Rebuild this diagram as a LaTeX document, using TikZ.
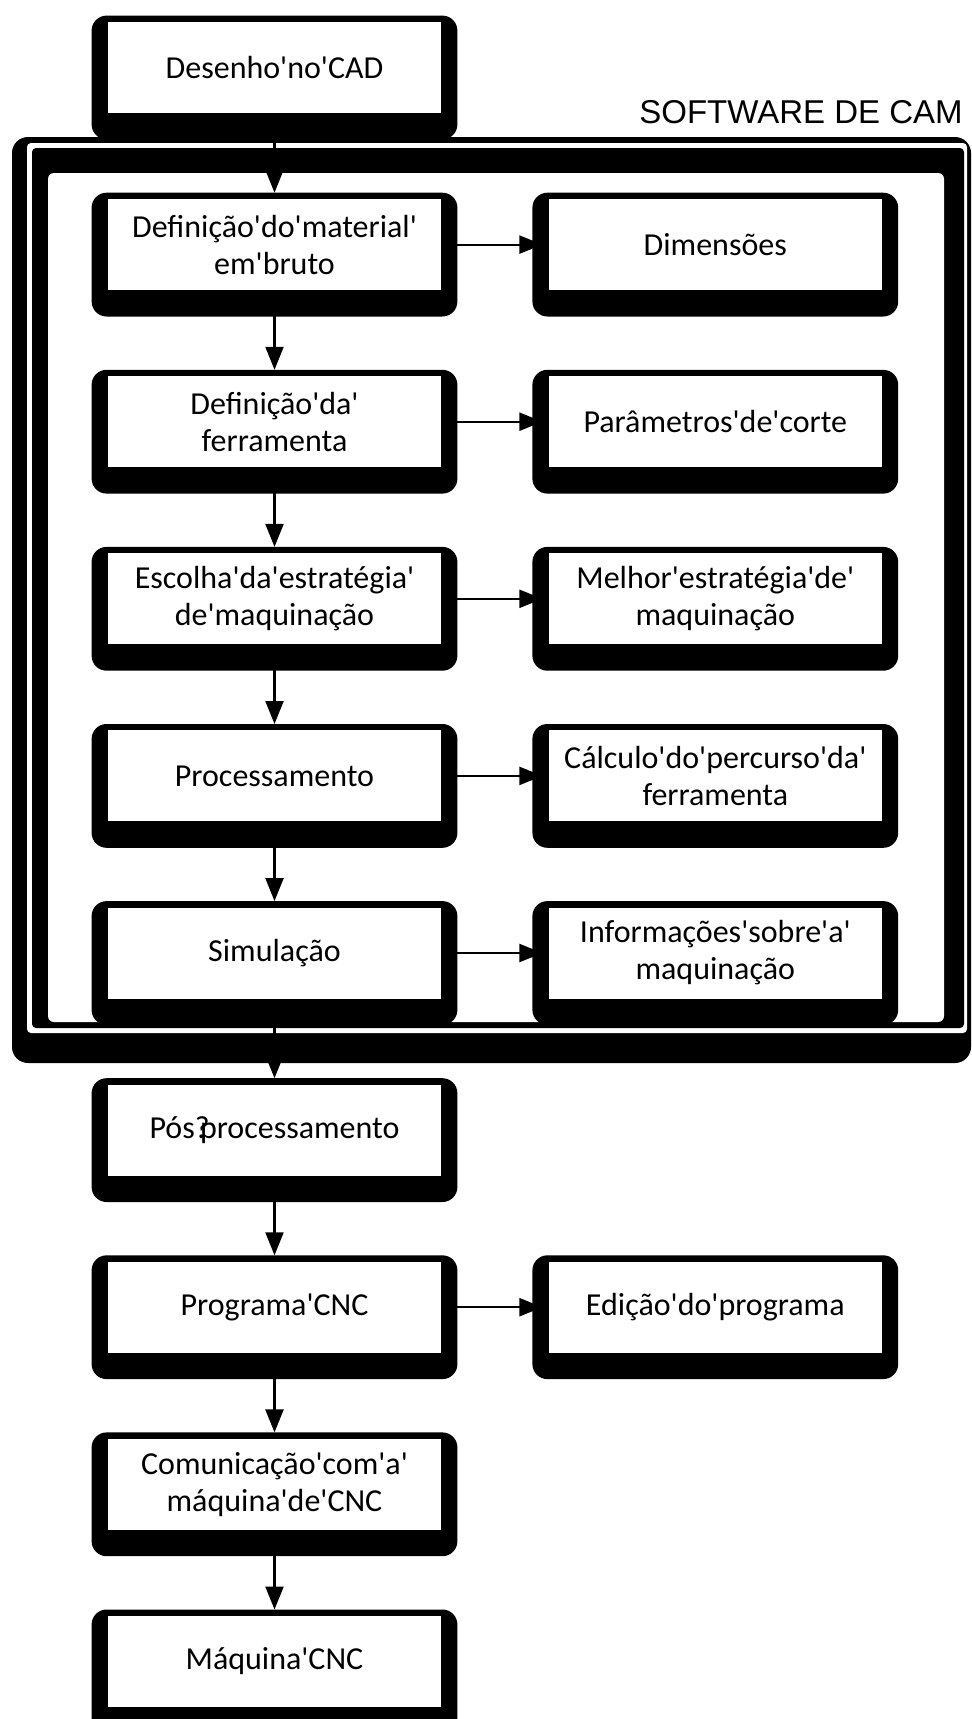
\documentclass[tikz,border=0pt]{standalone}
\usepackage{fontspec}
\usepackage{tikz}
\usetikzlibrary{positioning}
\usetikzlibrary{arrows.meta}
\usetikzlibrary{backgrounds}
\newfontfamily\boxfont{Carlito}[Ligatures=TeXOff]
\newfontfamily\labelfont{Liberation Sans}
\tikzset{
  step_box/.style = {align=center, inner sep=0pt, fill=white,
    minimum width=166.5pt, minimum height=45.5pt, text width=164pt,
    font=\boxfont\fontsize{16}{18.5}\selectfont},% caixa branca
  box_back/.style = {fill=black, rounded corners=7.5pt},% fundo preto da caixa
  flow_arrow/.style = {draw=black, line width=1.1pt, shorten >=3pt,
    -{Triangle[length=11.5pt, width=9pt]}}% seta entre caixas
}
\begin{document}
\begin{tikzpicture}[x=0.5pt, y=-0.5pt, node distance=42.65pt and 53.5pt]
  \useasboundingbox (0,0) rectangle (972,1719);
  % coluna principal
  \node [step_box] (cad) at (274.5,67.5) {Desenho'no'CAD};
  \node [step_box, below=of cad] (mat) {Definição'do'material'\\em'bruto};
  \node [step_box, below=of mat] (fer) {Definição'da'\\ferramenta};
  \node [step_box, below=of fer] (est) {Escolha'da'estratégia'\\de'maquinação};
  \node [step_box, below=of est] (proc) {Processamento};
  \node [step_box, below=of proc] (sim) {Simulação};
  \node [step_box, below=of sim] (pos) {Pós?\kern-.3em processamento};
  \node [step_box, below=of pos] (prog) {Programa'CNC};
  \node [step_box, below=of prog] (com) {Comunicação'com'a'\\máquina'de'CNC};
  \node [step_box, below=of com] (maq) {Máquina'CNC};
  % coluna da direita
  \node [step_box, right=of mat] (dim) {Dimensões};
  \node [step_box, right=of fer] (par) {Parâmetros'de'corte};
  \node [step_box, right=of est] (mel) {Melhor'estratégia'de'\\maquinação};
  \node [step_box, right=of proc] (calc) {Cálculo'do'percurso'da'\\ferramenta};
  \node [step_box, right=of sim] (info) {Informações'sobre'a'\\maquinação};
  \node [step_box, right=of prog] (edi) {Edição'do'programa};
  \node [font=\labelfont\fontsize{16.5}{20}\selectfont, inner sep=0pt,
    anchor=base east] (cam) at (963,123) {SOFTWARE DE CAM};
  \begin{scope}[on background layer]
    % moldura do software de CAM
    \fill [black, rounded corners=8pt] (12,137) rectangle (971,1063);
    \fill [white, rounded corners=2pt] (27,143) rectangle (967,1033);
    \fill [black, rounded corners=2pt] (32,148) rectangle (964,1028);
    \fill [white, rounded corners=3pt] (48,173) rectangle (944,1022);
    \foreach \n in {cad,mat,fer,est,proc,sim,pos,prog,com,maq,dim,par,mel,calc,info,edi}
      \fill [box_back] ([shift={(-16,-6)}]\n.north west) rectangle ([shift={(16,26)}]\n.south east);
  \end{scope}
  \foreach \a/\b in {cad/mat,mat/fer,fer/est,est/proc,proc/sim,sim/pos,pos/prog,prog/com,com/maq}
    \draw [flow_arrow] (\a) -- (\b);
  \foreach \a/\b in {mat/dim,fer/par,est/mel,proc/calc,sim/info,prog/edi}
    \draw [flow_arrow] (\a) -- (\b);
\end{tikzpicture}
\end{document}
